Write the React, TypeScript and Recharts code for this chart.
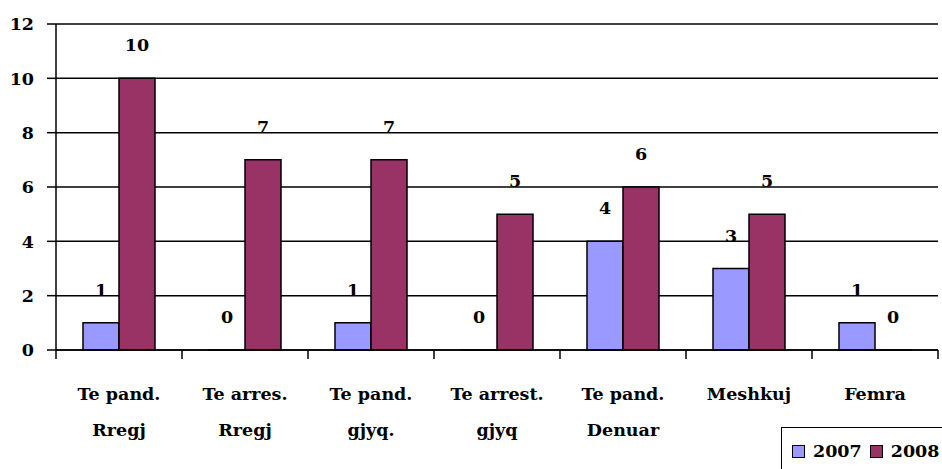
import React from 'react';
import { BarChart, Bar, XAxis, YAxis, CartesianGrid, LabelList } from 'recharts';

const categories = [
  'Te pand.\nRregj',
  'Te arres.\nRregj',
  'Te pand.\ngjyq.',
  'Te arrest.\ngjyq',
  'Te pand.\nDenuar',
  'Meshkuj',
  'Femra',
];
const values2007 = [1, 0, 1, 0, 4, 3, 1];
const values2008 = [10, 7, 7, 5, 6, 5, 0];
const yTicks = [0, 2, 4, 6, 8, 10, 12];
const seriesNames = ['2007', '2008'];
const seriesColors = ['#9999FF', '#993366'];

const data = categories.map((c, i) => ({ cat: c, v2007: values2007[i], v2008: values2008[i] }));

const FONT = "'DejaVu Serif', serif";
const FS = 17.5;

const CatTick = (props: any) => {
  const { x, y, payload, width, visibleTicksCount, index } = props;
  const lines = String(payload.value).split('\n');
  const band = width / visibleTicksCount;
  const isLast = index === visibleTicksCount - 1;
  return (
    <g>
      <line x1={x - band / 2} x2={x - band / 2} y1={y} y2={y + 9} stroke="#000" strokeWidth={1.5} />
      {isLast && <line x1={x + band / 2} x2={x + band / 2} y1={y} y2={y + 9} stroke="#000" strokeWidth={1.5} />}
      <text x={x} y={y} textAnchor="middle" fontFamily={FONT} fontWeight="bold" fontSize={FS} fill="#000">
        {lines.map((l, i) => (
          <tspan key={i} x={x} y={y + 50 + i * 36}>
            {l}
          </tspan>
        ))}
      </text>
    </g>
  );
};

const ValueLabel = (props: any) => {
  const { x, y, width, height, value } = props;
  const bottom = Number(y) + Number(height || 0);
  const top = Math.min(Number(y), bottom);
  const isZero = Number(value) === 0;
  return (
    <text
      x={Number(x) + Number(width) / 2}
      y={(isZero ? bottom : top) - 27}
      textAnchor="middle"
      fontFamily={FONT}
      fontWeight="bold"
      fontSize={FS}
      fill="#000"
    >
      {String(value)}
    </text>
  );
};

export default function App() {
  return (
    <div style={{ position: 'absolute', left: 0, top: 0, width: 942, height: 469, background: '#fff' }}>
      <BarChart
        width={942}
        height={469}
        data={data}
        margin={{ top: 24, right: 4, left: 0, bottom: 0 }}
        barCategoryGap={27}
        barGap={0}
      >
        <CartesianGrid vertical={false} stroke="#000" strokeWidth={1.5} />
        <XAxis
          dataKey="cat"
          tick={<CatTick />}
          tickLine={false}
          tickSize={0}
          tickMargin={0}
          interval={0}
          axisLine={{ stroke: '#000', strokeWidth: 1.5 }}
          height={119}
        />
        <YAxis
          domain={[0, 12]}
          ticks={yTicks}
          width={56}
          tickSize={9}
          tickMargin={13}
          axisLine={{ stroke: '#000', strokeWidth: 1.5 }}
          tickLine={{ stroke: '#000', strokeWidth: 1.5 }}
          tick={{ fontFamily: FONT, fontWeight: 'bold', fontSize: FS, fill: '#000' }}
        />
        <Bar dataKey="v2007" name={seriesNames[0]} fill={seriesColors[0]} stroke="#000" strokeWidth={1.5} minPointSize={0.01} isAnimationActive={false}>
          <LabelList dataKey="v2007" content={<ValueLabel />} />
        </Bar>
        <Bar dataKey="v2008" name={seriesNames[1]} fill={seriesColors[1]} stroke="#000" strokeWidth={1.5} minPointSize={0.01} isAnimationActive={false}>
          <LabelList dataKey="v2008" content={<ValueLabel />} />
        </Bar>
      </BarChart>
      <div
        style={{
          position: 'absolute',
          left: 781,
          top: 427,
          width: 175,
          height: 50,
          border: '1.5px solid #000',
          background: '#fff',
          boxSizing: 'border-box',
          fontFamily: FONT,
          fontWeight: 'bold',
          fontSize: FS,
          color: '#000',
          display: 'flex',
          alignItems: 'flex-start',
          paddingTop: 10,
          paddingLeft: 10,
        }}
      >
        {seriesNames.map((n, i) => (
          <div key={n} style={{ display: 'flex', alignItems: 'center', marginRight: 8 }}>
            <span
              style={{
                display: 'inline-block',
                width: 11,
                height: 11,
                background: seriesColors[i],
                border: '1.5px solid #000',
                marginRight: 8,
              }}
            />
            <span style={{ lineHeight: '26px' }}>{n}</span>
          </div>
        ))}
      </div>
    </div>
  );
}
